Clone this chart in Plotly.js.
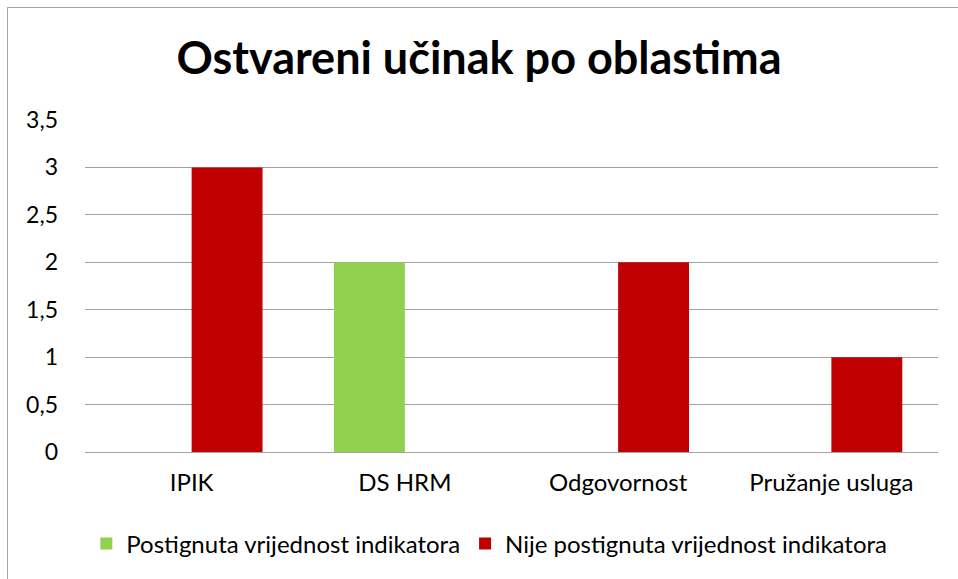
<!DOCTYPE html>
<html>
<head>
<meta charset="utf-8">
<script src="https://cdn.plot.ly/plotly-3.0.1.min.js"></script>
<style>
  body { margin: 0; background: #fff; }
  #plot { position: absolute; left: 0; top: 0; width: 958px; height: 579px; }
  #frame { position: absolute; left: 7px; top: 7px; width: 960px; height: 580px;
           border-top: 1px solid #a6a6a6; border-left: 1px solid #a6a6a6; pointer-events: none; }
</style>
</head>
<body>
<div id="plot"></div>
<div id="frame"></div>
<script>
const categories = ['IPIK', 'DS HRM', 'Odgovornost', 'Pružanje usluga'];
const achieved = [0, 2, 0, 0];
const notAchieved = [3, 0, 2, 1];

const FONT = 'Lato, "Open Sans", sans-serif';

const traceAchieved = {
  x: categories, y: achieved, type: 'bar',
  name: 'Postignuta vrijednost indikatora',
  marker: { color: '#92d050' }, hoverinfo: 'skip'
};
const traceNot = {
  x: categories, y: notAchieved, type: 'bar',
  name: 'Nije postignuta vrijednost indikatora',
  marker: { color: '#c00000' }, hoverinfo: 'skip'
};

const layout = {
  width: 958, height: 579,
  margin: { t: 120, b: 127, l: 85, r: 20 },
  paper_bgcolor: 'rgba(0,0,0,0)',
  plot_bgcolor: '#fff',
  separators: ', ',
  barmode: 'group',
  bargap: 0.335,
  bargroupgap: 0,
  font: { family: FONT, size: 23, color: '#000' },
  title: {
    text: '<b>Ostvareni učinak po oblastima</b>',
    font: { family: FONT, size: 45, color: '#000' },
    x: 0.5, xanchor: 'center', y: 0.9, yanchor: 'middle'
  },
  xaxis: {
    type: 'category',
    showgrid: false, showline: false, zeroline: false,
    ticks: '', ticklabelstandoff: 14,
    tickfont: { family: FONT, size: 24, color: '#000' }
  },
  yaxis: {
    range: [0, 3.5], dtick: 0.5, tick0: 0,
    showgrid: true, gridcolor: '#a0a0a0', gridwidth: 1,
    zeroline: true, zerolinecolor: '#a0a0a0', zerolinewidth: 1,
    showline: false, ticks: '', ticklabelstandoff: 26,
    tickfont: { family: FONT, size: 23, color: '#000' }
  },
  showlegend: true,
  legend: {
    orientation: 'h', x: 0.474, xanchor: 'center', y: -0.277, yanchor: 'middle',
    font: { family: FONT, size: 24, color: '#000' },
    itemwidth: 30, tracegroupgap: 0
  }
};

Plotly.newPlot('plot', [traceAchieved, traceNot], layout, { staticPlot: true });
</script>
</body>
</html>
